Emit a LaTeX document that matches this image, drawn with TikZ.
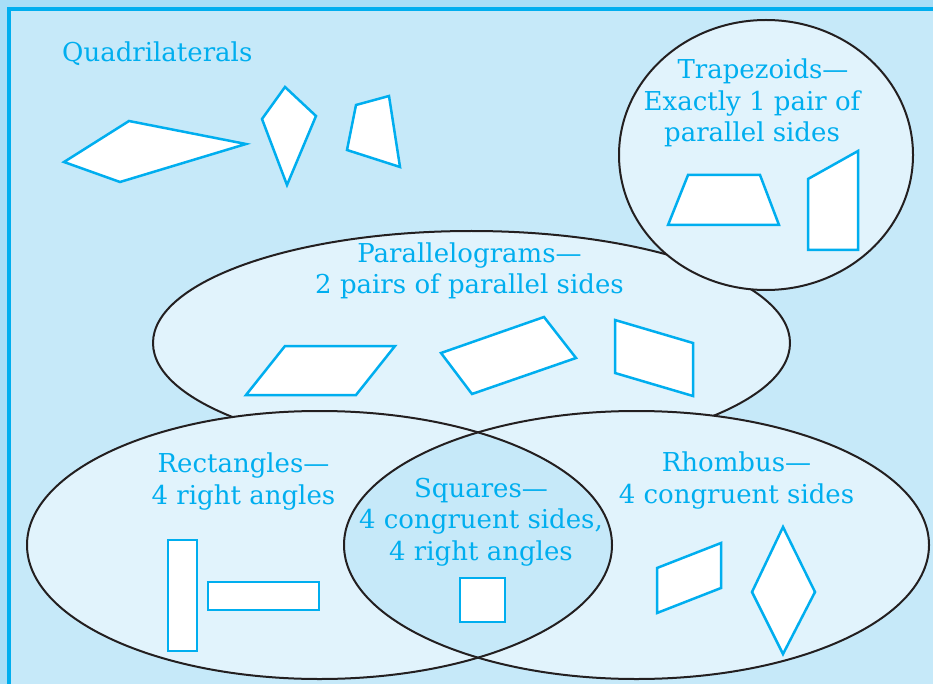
\documentclass[tikz,border=0pt]{standalone}
\usepackage{fontspec}
\setmainfont{DejaVu Serif}
\definecolor{outerc}{HTML}{A8DEF7}
\definecolor{cyanc}{HTML}{00AEEF}
\definecolor{bgc}{HTML}{C6E9F9}
\definecolor{ellc}{HTML}{E1F3FC}
\definecolor{strk}{HTML}{231F20}
\begin{document}
\begin{tikzpicture}[x=1pt,y=-1pt,
  shp/.style={draw=cyanc, fill=white, line width=2.5pt, line join=miter},
  lbl/.style={text=cyanc, font=\fontsize{26}{31.5}\selectfont, align=center, inner sep=0pt, anchor=base},
  ell/.style={draw=strk, line width=2pt}]
\useasboundingbox (0,0) rectangle (933,684);
\fill[outerc] (0,0) rectangle (933,684);
\fill[bgc] (9,9) rectangle (933,684);
\draw[cyanc, line width=4pt] (9,684) -- (9,9) -- (933,9);

% parallelograms ellipse
\filldraw[ell, fill=ellc] (471.5,343) ellipse [x radius=318.5pt, y radius=112pt];
% rectangles and rhombus ellipses
\fill[ellc] (319.5,545) ellipse [x radius=292.5pt, y radius=134pt];
\fill[ellc] (636.5,545) ellipse [x radius=292.5pt, y radius=134pt];
\begin{scope}
  \clip (319.5,545) ellipse [x radius=292.5pt, y radius=134pt];
  \fill[bgc] (636.5,545) ellipse [x radius=292.5pt, y radius=134pt];
\end{scope}
\draw[ell] (319.5,545) ellipse [x radius=292.5pt, y radius=134pt];
\draw[ell] (636.5,545) ellipse [x radius=292.5pt, y radius=134pt];
% trapezoids circle
\filldraw[ell, fill=ellc] (766,155) ellipse [x radius=147pt, y radius=135pt];

% labels (base anchor = baseline of last line)
\node[lbl, anchor=base west] (quad) at (62,62) {Quadrilaterals};
\node[lbl] (trap) at (752,142) {\hspace*{22pt}Trapezoids—\\Exactly 1 pair of\\parallel sides};
\node[lbl] (para) at (469.5,294) {Parallelograms—\\2 pairs of parallel sides};
\node[lbl] (rect) at (243.5,504) {Rectangles—\\4 right angles};
\node[lbl] (squ) at (481,560) {Squares—\\4 congruent sides,\\4 right angles};
\node[lbl] (rhom) at (736.5,503) {Rhombus—\\4 congruent sides};

% quadrilaterals
\draw[shp] (64,162) -- (129,121) -- (246,144) -- (120,182) -- cycle;
\draw[shp] (285,87) -- (316,116) -- (287,185) -- (262,119) -- cycle;
\draw[shp] (356,105) -- (389,96) -- (400,167) -- (347,150) -- cycle;
% trapezoids
\draw[shp] (688,175) -- (760,175) -- (779,225) -- (668,225) -- cycle;
\draw[shp] (808,179) -- (858,151) -- (858,250) -- (808,250) -- cycle;
% parallelograms
\draw[shp] (285,346) -- (395,346) -- (356,395) -- (246,395) -- cycle;
\draw[shp] (441,353) -- (544,317) -- (576,358) -- (472,394) -- cycle;
\draw[shp] (615,320) -- (693,343) -- (693,396) -- (615,373) -- cycle;
% rectangles
\draw[shp] (168,540) rectangle (197,651);
\draw[shp] (208,582) rectangle (319,610);
% square
\draw[shp] (460,578) rectangle (505,622);
% rhombus
\draw[shp] (657,568) -- (721,543) -- (721,588) -- (657,613) -- cycle;
\draw[shp] (783,527) -- (815,592) -- (783,654) -- (752,592) -- cycle;
\end{tikzpicture}
\end{document}
